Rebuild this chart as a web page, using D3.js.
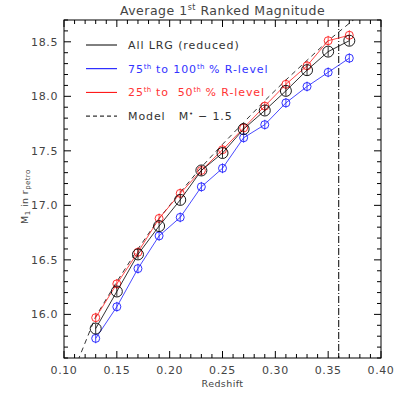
<!DOCTYPE html>
<html>
<head>
<meta charset="utf-8">
<script src="https://cdn.jsdelivr.net/npm/d3@7"></script>
<style>
  body { margin: 0; background: #fff; }
  text { font-family: "DejaVu Sans", sans-serif; white-space: pre; }
</style>
</head>
<body>
<div id="chart"></div>
<script>
// data
var redshift = [0.13, 0.15, 0.17, 0.19, 0.21, 0.23, 0.25, 0.27, 0.29, 0.31, 0.33, 0.35, 0.37];
var allLRG   = [15.87, 16.21, 16.55, 16.81, 17.05, 17.32, 17.48, 17.70, 17.87, 18.05, 18.24, 18.41, 18.51];
var top75    = [15.78, 16.07, 16.42, 16.72, 16.89, 17.17, 17.34, 17.62, 17.74, 17.94, 18.09, 18.22, 18.35];
var mid25    = [15.97, 16.28, 16.57, 16.88, 17.11, 17.32, 17.51, 17.71, 17.91, 18.11, 18.28, 18.51, 18.56];
var modelZ   = [0.11, 0.13, 0.15, 0.17, 0.19, 0.21, 0.23, 0.25, 0.27, 0.29, 0.31, 0.33, 0.35, 0.37, 0.38];
var modelM   = [15.50, 15.98, 16.30, 16.60, 16.88, 17.12, 17.35, 17.56, 17.76, 17.96, 18.15, 18.33, 18.51, 18.67, 18.75];
var errBar = 0.045;
var zLimit = 0.36;
var xTicks = [0.10, 0.15, 0.20, 0.25, 0.30, 0.35, 0.40];
var yTicks = [16.0, 16.5, 17.0, 17.5, 18.0, 18.5];

var margin = { top: 20, right: 19, bottom: 42, left: 64 },
  width = 400 - margin.left - margin.right,
  height = 400 - margin.top - margin.bottom;

var svg = d3.select("#chart").append("svg")
  .attr("width", 400).attr("height", 400);

var g = svg.append("g")
  .attr("transform", "translate(" + margin.left + "," + margin.top + ")");

var x = d3.scaleLinear().domain([0.10, 0.40]).range([0, width]);
var y = d3.scaleLinear().domain([15.6, 18.7]).range([height, 0]);

// frame
g.append("rect").attr("width", width).attr("height", height)
  .attr("fill", "none").attr("stroke", "#000").attr("stroke-width", 1);

// ticks (inward, all four sides)
var xMinor = d3.range(0.10, 0.4001, 0.01);
var yMinor = d3.range(15.6, 18.7001, 0.1);
xMinor.forEach(function (v) {
  var major = xTicks.some(function (t) { return Math.abs(t - v) < 1e-6; });
  var len = major ? 7 : 4;
  g.append("line").attr("x1", x(v)).attr("x2", x(v)).attr("y1", height).attr("y2", height - len).attr("stroke", "#000");
  g.append("line").attr("x1", x(v)).attr("x2", x(v)).attr("y1", 0).attr("y2", len).attr("stroke", "#000");
});
yMinor.forEach(function (v) {
  var major = yTicks.some(function (t) { return Math.abs(t - v) < 1e-6; });
  var len = major ? 7 : 4;
  g.append("line").attr("y1", y(v)).attr("y2", y(v)).attr("x1", 0).attr("x2", len).attr("stroke", "#000");
  g.append("line").attr("y1", y(v)).attr("y2", y(v)).attr("x1", width).attr("x2", width - len).attr("stroke", "#000");
});

// tick labels
g.selectAll(".xl").data(xTicks).enter().append("text")
  .attr("x", function (d) { return x(d); }).attr("y", height + 16)
  .attr("text-anchor", "middle").style("font-size", "11px").style("letter-spacing", "0.6px").attr("fill", "#444")
  .text(function (d) { return d.toFixed(2); });
g.selectAll(".yl").data(yTicks).enter().append("text")
  .attr("x", -6).attr("y", function (d) { return y(d) + 4; })
  .attr("text-anchor", "end").style("font-size", "11px").style("letter-spacing", "0.6px").attr("fill", "#444")
  .text(function (d) { return d.toFixed(1); });

// axis titles
g.append("text").attr("x", width / 2).attr("y", height + 29)
  .attr("text-anchor", "middle").style("font-size", "9.5px").style("letter-spacing", "0.4px").attr("fill", "#444").text("Redshift");

var yl = g.append("text").attr("transform", "translate(-36," + (y(17.08)) + ") rotate(-90)")
  .attr("text-anchor", "middle").style("font-size", "9.5px").style("letter-spacing", "0.4px").attr("fill", "#444");
yl.append("tspan").text("M");
yl.append("tspan").attr("dy", 2).style("font-size", "7px").text("1");
yl.append("tspan").attr("dy", -2).text(" in r");
yl.append("tspan").attr("dy", 2).style("font-size", "7px").text("petro");

var title = svg.append("text").attr("x", margin.left + width / 2).attr("y", 15)
  .attr("text-anchor", "middle").style("font-size", "12.5px").style("letter-spacing", "0.5px").attr("fill", "#444");
title.append("tspan").text("Average 1");
title.append("tspan").attr("dy", -5).style("font-size", "8px").text("st");
title.append("tspan").attr("dy", 5).text(" Ranked Magnitude");

// clip for lines
svg.append("clipPath").attr("id", "clip").append("rect").attr("width", width).attr("height", height);
var plot = g.append("g").attr("clip-path", "url(#clip)");

// model line
var modelLine = d3.line().x(function (d, i) { return x(modelZ[i]); }).y(function (d) { return y(d); });
plot.append("path").attr("d", modelLine(modelM))
  .attr("fill", "none").attr("stroke", "#000").attr("stroke-width", 0.8).attr("stroke-dasharray", "5,4");

// redshift limit
plot.append("line").attr("x1", x(zLimit)).attr("x2", x(zLimit)).attr("y1", 0).attr("y2", height)
  .attr("stroke", "#000").attr("stroke-dasharray", "7,2,1,2");

var series = [
  { vals: mid25, color: "#ff1a1a", r: 4 },
  { vals: top75, color: "#1a1aff", r: 4 },
  { vals: allLRG, color: "#000000", r: 5.5 }
];
var line = d3.line().x(function (d, i) { return x(redshift[i]); }).y(function (d) { return y(d); });
series.forEach(function (s) {
  plot.append("path").attr("d", line(s.vals)).attr("fill", "none")
    .attr("stroke", s.color).attr("stroke-width", 0.8);
  var pts = plot.selectAll(null).data(s.vals).enter().append("g");
  pts.append("circle")
    .attr("cx", function (d, i) { return x(redshift[i]); })
    .attr("cy", function (d) { return y(d); })
    .attr("r", s.r).attr("fill", "none").attr("stroke", s.color).attr("stroke-width", 0.9);
  pts.append("line")
    .attr("x1", function (d, i) { return x(redshift[i]); })
    .attr("x2", function (d, i) { return x(redshift[i]); })
    .attr("y1", function (d) { return y(d - errBar); })
    .attr("y2", function (d) { return y(d + errBar); })
    .attr("stroke", s.color).attr("stroke-width", 0.8);
});

// legend
var legend = [
  { label: [["All LRG (reduced)", 0]], color: "#000", line: "#000", dash: null },
  { label: [["75", 0], ["th", 1], [" to 100", 0], ["th", 1], [" % R-level", 0]], color: "#3333ff", line: "#0000ff", dash: null },
  { label: [["25", 0], ["th", 1], [" to  50", 0], ["th", 1], [" % R-level", 0]], color: "#ff3333", line: "#ff0000", dash: null },
  { label: [["Model   M", 0], ["\u2022", 1], [" \u2212 1.5", 0]], color: "#000", line: "#000", dash: "4,3" }
];
legend.forEach(function (d, i) {
  var ly = 25 + i * 23.7;
  g.append("line").attr("x1", 22).attr("x2", 53).attr("y1", ly).attr("y2", ly)
    .attr("stroke", d.line).attr("stroke-width", 1).attr("stroke-dasharray", d.dash);
  var t = g.append("text").attr("x", 64).attr("y", ly + 4)
    .style("font-size", "11px").style("letter-spacing", "0.9px").attr("fill", d.color === "#000" ? "#333" : d.color);
  var up = false;
  d.label.forEach(function (p) {
    var ts = t.append("tspan").text(p[0]);
    if (p[1] && !up) { ts.attr("dy", -4).style("font-size", "7px").style("letter-spacing", "0.3px"); up = true; }
    else if (!p[1] && up) { ts.attr("dy", 4); up = false; }
  });
});
</script>
</body>
</html>
